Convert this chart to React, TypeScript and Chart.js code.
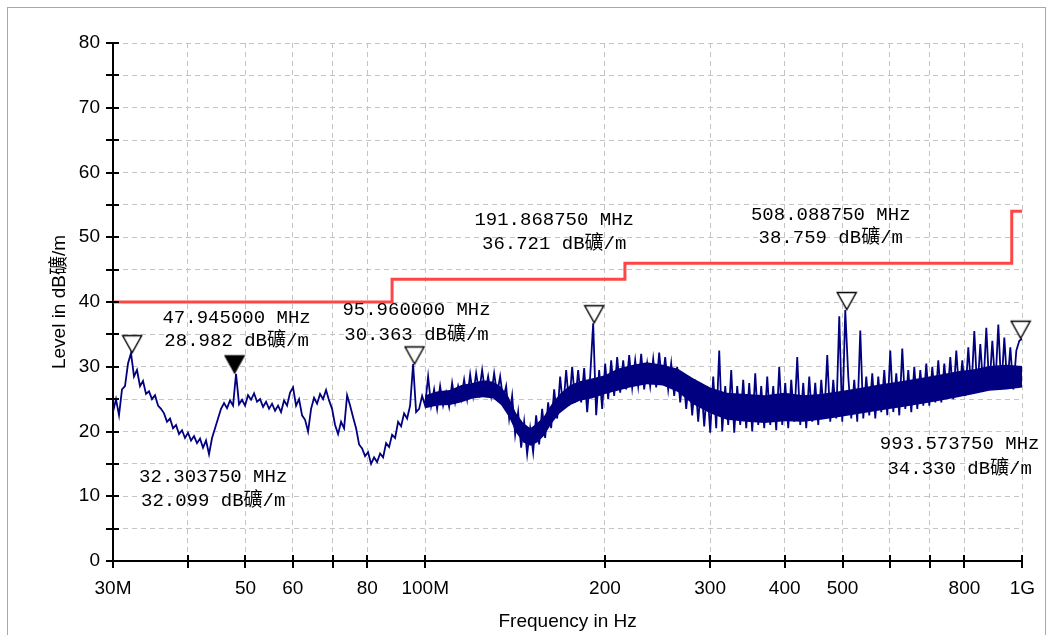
import React, { useEffect, useRef } from 'react';
import { Chart, registerables } from 'chart.js';

Chart.register(...registerables);

// ---- Data ----
const X_TICKS = [30, 40, 50, 60, 70, 80, 100, 200, 300, 400, 500, 600, 700, 800, 1000];
const X_TICK_LABELS = ['30M', '', '50', '60', '', '80', '100M', '200', '300', '400', '500', '', '', '800', '1G'];
const X_MIN = 30;
const X_MAX = 1000;
const Y_MIN = 0;
const Y_MAX = 80;
const Y_STEP = 5;

const LIMIT_FREQ = [30, 88, 216, 960, 1000];
const LIMIT_LEVEL = [40, 43.5, 46, 54, 54];

const MARKER_FREQ = [32.30375, 47.945, 95.96, 191.86875, 508.08875, 993.57375];
const MARKER_LEVEL = [32.099, 28.982, 30.363, 36.721, 38.759, 34.33];
const MARKER_FILLED = [false, true, false, false, false, false];

// measured level (dBuV/m) sampled along the sweep from 30 MHz to 1 GHz
const TRACE_LEVEL = [
  23.0, 25.0, 22.5, 26.5, 27.0, 30.5, 32.1, 28.5, 29.5, 27.0,
  27.8, 25.8, 26.2, 25.0, 25.6, 24.0, 23.5, 22.8, 21.5, 22.0,
  20.5, 21.0, 19.6, 20.2, 19.0, 19.8, 18.6, 19.3, 18.2, 18.9,
  17.5, 18.6, 16.5, 19.0, 20.5, 22.0, 23.5, 24.4, 23.6, 24.8,
  24.0, 28.9, 24.2, 24.9, 24.0, 25.6, 24.9, 25.9, 24.6, 25.0,
  23.8, 24.6, 23.5, 24.3, 23.2, 24.0, 23.0, 24.8, 24.0, 26.0,
  26.8, 24.0, 25.0, 22.5, 21.8, 20.0, 23.5, 25.2, 24.3, 25.8,
  25.0, 26.4, 24.8, 23.5, 21.0, 19.6, 21.5, 20.5, 25.6, 24.0,
  22.2, 20.5, 18.0, 17.4, 16.2, 16.8, 15.0, 16.0, 15.3, 16.6,
  16.0, 18.2, 17.6, 19.5, 19.0, 21.5, 20.8, 22.8, 22.0, 24.0,
  30.4, 23.0, 23.5, 25.5, 24.0, 28.5, 24.0, 26.5, 23.5, 27.0,
  24.0, 26.0, 23.8, 27.5, 24.5, 27.0, 25.0, 28.0, 25.0, 28.8,
  25.5, 29.0, 26.0, 29.5, 26.0, 28.5, 25.5, 29.0, 25.8, 28.5,
  25.0, 27.0, 22.0, 25.5, 19.5, 23.0, 17.5, 21.5, 16.5, 20.5,
  16.8, 22.5, 18.0, 23.5, 19.0, 24.5, 20.5, 26.5, 22.0, 28.5,
  23.5, 29.5, 24.0, 30.0, 24.5, 29.5, 24.5, 29.8, 23.0, 28.5,
  36.7, 22.5, 29.5, 23.5, 30.5, 25.0, 31.0, 25.5, 31.5, 26.0,
  31.0, 26.5, 31.8, 26.8, 31.0, 27.0, 32.0, 26.5, 30.5, 27.0,
  31.2, 26.8, 32.2, 27.2, 31.5, 26.5, 30.5, 25.5, 30.0, 24.5,
  29.0, 23.5, 28.5, 22.5, 28.0, 21.5, 27.5, 20.8, 27.0, 19.8,
  28.5, 20.5, 32.5, 20.0, 27.0, 21.0, 29.5, 19.8, 27.0, 21.0,
  28.0, 20.5, 27.5, 20.0, 29.0, 21.0, 27.0, 20.5, 28.5, 21.0,
  27.0, 20.2, 30.0, 21.0, 27.5, 20.5, 28.0, 21.5, 31.5, 21.0,
  27.5, 20.5, 28.5, 21.5, 27.5, 21.0, 28.0, 22.0, 31.8, 21.5,
  28.0, 22.0, 37.8, 21.5, 38.76, 28.5, 22.0, 28.0, 21.5, 35.6,
  22.0, 28.5, 22.5, 29.0, 22.0, 28.5, 23.0, 29.5, 22.5, 32.5,
  23.0, 29.0, 22.5, 32.8, 23.5, 29.5, 23.0, 30.0, 23.5, 29.5,
  24.0, 30.5, 24.0, 30.0, 24.5, 31.0, 24.5, 30.5, 25.0, 31.5,
  25.0, 32.5, 25.5, 31.0, 25.5, 33.0, 26.0, 35.5, 26.0, 33.5,
  26.5, 36.0, 26.5, 34.0, 27.0, 36.5, 26.5, 34.5, 27.0, 33.0,
  26.5, 32.5, 34.0, 34.33,
];

// sweep frequency grid (log-spaced points of the receiver sweep)
const TRACE_FREQ = TRACE_LEVEL.map((_, i) => X_MIN * Math.pow(X_MAX / X_MIN, i / (TRACE_LEVEL.length - 1)));

// dense noise core of the trace (upper / lower edge)
const CORE_FREQ = [100, 105, 110, 115, 120, 125, 130, 134, 138, 142, 146, 150, 154, 158, 163, 168, 175, 182, 190, 200, 210, 220, 235, 250, 265, 280, 300, 320, 345, 370, 400, 430, 460, 500, 540, 580, 630, 680, 730, 780, 830, 880, 940, 1000];
const CORE_HI = [25.6, 26.2, 26.4, 27.2, 27.5, 27.9, 27.7, 26.9, 25.3, 22.8, 21.3, 20.5, 21.3, 22.3, 24.3, 25.8, 27.2, 27.8, 28.2, 28.7, 29.7, 30.2, 30.7, 30.3, 29.7, 28.3, 26.8, 26.0, 25.8, 25.6, 26.0, 25.6, 25.8, 26.3, 26.8, 27.3, 27.8, 28.3, 28.8, 29.3, 29.6, 30.1, 30.3, 30.1];
const CORE_LO = [23.6, 24.0, 24.1, 24.5, 25.1, 25.3, 25.1, 24.1, 22.3, 19.8, 18.3, 17.8, 18.3, 19.3, 21.3, 22.8, 24.1, 24.8, 25.1, 25.8, 26.3, 26.8, 27.3, 27.1, 26.1, 24.3, 22.8, 21.8, 21.5, 21.3, 21.6, 21.5, 21.8, 22.3, 22.8, 23.3, 23.8, 24.3, 24.8, 25.3, 25.8, 26.3, 26.5, 26.8];

const UNIT = 'dB礦/m';

// ---- Styles ----
const LABEL_OFFSETS = [
  [81, 124, 148],
  [2, -55, -32],
  [2, -54, -29],
  [-40, -103, -79],
  [-16, -95.5, -72.5],
  [-61, 105, 130],
];
const NAVY = '#000080';
const AXIS_FONT = { family: '"Liberation Sans", Arial, "Noto Sans CJK SC", sans-serif', size: 19 };
const NOTE_FONT = '19px "Liberation Mono", "Noto Sans CJK SC", monospace';

function makeTriangle(filled: boolean) {
  const c = document.createElement('canvas');
  c.width = 22;
  c.height = 40;
  const g = c.getContext('2d')!;
  g.beginPath();
  g.moveTo(1.5, 2.5);
  g.lineTo(20.5, 2.5);
  g.lineTo(11, 19.5);
  g.closePath();
  g.fillStyle = filled ? '#000' : '#fff';
  g.fill();
  g.strokeStyle = '#000';
  g.lineWidth = 1.4;
  g.stroke();
  return c;
}

const tickMarks = {
  id: 'tickMarks',
  afterDatasetsDraw(chart: any) {
    const { ctx, chartArea, scales } = chart;
    const x = scales.x;
    const y = scales.y;
    ctx.save();
    ctx.strokeStyle = '#000';
    ctx.lineWidth = 2;
    ctx.beginPath();
    y.ticks.forEach((t: any) => {
      const py = Math.round(y.getPixelForValue(t.value));
      ctx.moveTo(chartArea.left - 7, py);
      ctx.lineTo(chartArea.left + 6, py);
    });
    X_TICKS.forEach((v) => {
      const px = Math.round(x.getPixelForValue(v));
      ctx.moveTo(px, chartArea.bottom - 6);
      ctx.lineTo(px, chartArea.bottom + 7);
    });
    ctx.stroke();
    ctx.restore();
  },
};

const markerNotes = {
  id: 'markerNotes',
  afterDraw(chart: any) {
    const { ctx, scales } = chart;
    const x = scales.x;
    const y = scales.y;
    ctx.save();
    ctx.font = NOTE_FONT;
    ctx.fillStyle = '#000';
    ctx.textAlign = 'center';
    ctx.textBaseline = 'middle';
    MARKER_FREQ.forEach((f, i) => {
      const px = x.getPixelForValue(f);
      const py = y.getPixelForValue(MARKER_LEVEL[i]);
      const [dx, d1, d2] = LABEL_OFFSETS[i];
      ctx.fillText(f.toFixed(6) + ' MHz', px + dx, py + d1);
      ctx.fillText(MARKER_LEVEL[i].toFixed(3) + ' ' + UNIT, px + dx, py + d2);
    });
    ctx.restore();
  },
};

export default function App() {
  const ref = useRef<HTMLCanvasElement>(null);

  useEffect(() => {
    document.body.style.overflow = 'hidden';
    const openTri = makeTriangle(false);
    const filledTri = makeTriangle(true);
    const chart = new Chart(ref.current!, {
      type: 'line',
      data: {
        datasets: [
          {
            label: 'markers',
            data: MARKER_FREQ.map((f, i) => ({ x: f, y: MARKER_LEVEL[i] })),
            showLine: false,
            pointRadius: 10,
            pointStyle: MARKER_FILLED.map((f) => (f ? filledTri : openTri)) as any,
            clip: false as any,
            order: 0,
          },
          {
            label: 'limit',
            data: LIMIT_FREQ.map((f, i) => ({ x: f, y: LIMIT_LEVEL[i] })),
            borderColor: '#ff4646',
            borderWidth: 3,
            stepped: 'before',
            pointRadius: 0,
            fill: false,
            order: 1,
          },
          {
            label: 'level',
            data: TRACE_FREQ.map((f, i) => ({ x: f, y: TRACE_LEVEL[i] })),
            borderColor: NAVY,
            borderWidth: 1.8,
            pointRadius: 0,
            tension: 0,
            fill: false,
            order: 2,
          },
          {
            label: 'coreHi',
            data: CORE_FREQ.map((f, i) => ({ x: f, y: CORE_HI[i] })),
            borderWidth: 0,
            borderColor: NAVY,
            backgroundColor: NAVY,
            pointRadius: 0,
            tension: 0,
            fill: '+1',
            order: 3,
          },
          {
            label: 'coreLo',
            data: CORE_FREQ.map((f, i) => ({ x: f, y: CORE_LO[i] })),
            borderWidth: 0,
            borderColor: NAVY,
            pointRadius: 0,
            tension: 0,
            fill: false,
            order: 4,
          },
        ],
      },
      options: {
        animation: false,
        responsive: false,
        events: [],
        layout: { padding: { left: 0, right: 27, top: 43, bottom: 0 } },
        plugins: {
          legend: { display: false },
          tooltip: { enabled: false },
        },
        scales: {
          x: {
            type: 'logarithmic',
            min: X_MIN,
            max: X_MAX,
            afterBuildTicks: (s: any) => {
              s.ticks = X_TICKS.map((v) => ({ value: v }));
            },
            afterFit: (s: any) => {
              s.height = 74;
            },
            grid: { color: '#c4c4c4', lineWidth: 1, drawTicks: false },
            border: { display: true, color: '#000', width: 2, dash: [5, 4] },
            ticks: {
              autoSkip: false,
              maxRotation: 0,
              padding: 16,
              color: '#000',
              font: AXIS_FONT,
              callback: (v: any) => {
                const k = X_TICKS.indexOf(Number(v));
                return k >= 0 ? X_TICK_LABELS[k] : '';
              },
            },
            title: {
              display: true,
              text: 'Frequency in Hz',
              color: '#000',
              font: AXIS_FONT,
              padding: { top: 0, bottom: 2 },
            },
          },
          y: {
            type: 'linear',
            min: Y_MIN,
            max: Y_MAX,
            afterFit: (s: any) => {
              s.width = 113;
            },
            grid: { color: '#c4c4c4', lineWidth: 1, drawTicks: false },
            border: { display: true, color: '#000', width: 2, dash: [5, 4] },
            ticks: {
              stepSize: Y_STEP,
              autoSkip: false,
              padding: 13,
              color: '#000',
              font: AXIS_FONT,
              callback: (v: any) => (Number(v) % 10 === 0 ? String(v) : ''),
            },
            title: {
              display: true,
              text: 'Level in ' + UNIT,
              color: '#000',
              font: AXIS_FONT,
              padding: { top: 48, bottom: 0 },
            },
          },
        },
      } as any,
      plugins: [tickMarks, markerNotes],
    });
    return () => chart.destroy();
  }, []);

  return (
    <div style={{ position: 'absolute', left: 0, top: 0, width: 1051, height: 635, background: '#fff' }}>
      <div
        style={{
          position: 'absolute',
          left: 7,
          top: 7,
          width: 1037,
          height: 628,
          borderTop: '1px solid #a8a8a8',
          borderLeft: '1px solid #a8a8a8',
          borderRight: '1px solid #a8a8a8',
        }}
      />
      <canvas
        ref={ref}
        width={1051}
        height={635}
        style={{ position: 'absolute', left: 0, top: 0, width: 1051, height: 635 }}
      />
    </div>
  );
}
